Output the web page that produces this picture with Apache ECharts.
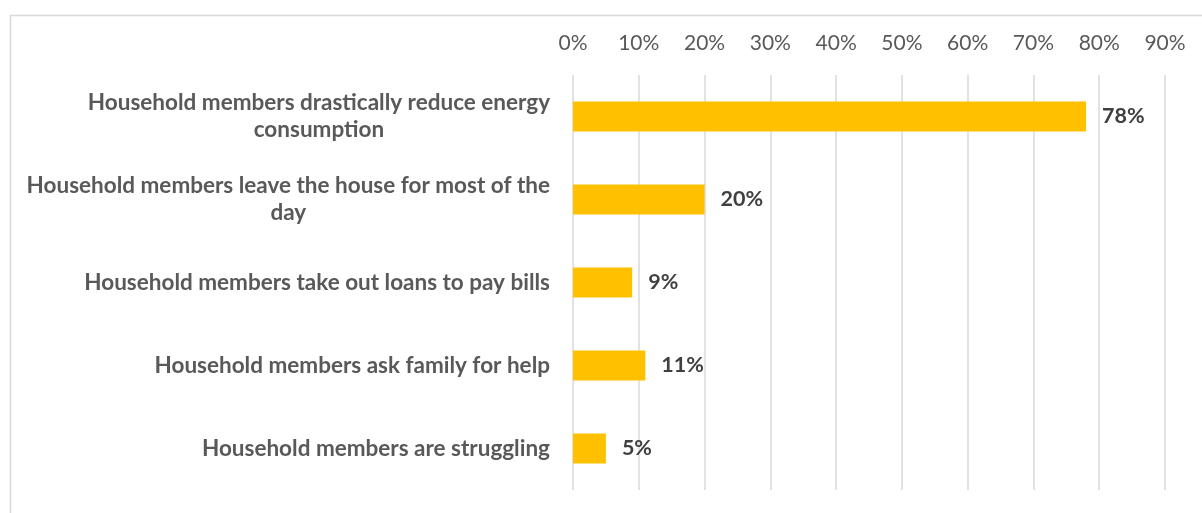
<!DOCTYPE html>
<html>
<head>
<meta charset="utf-8">
<script src="https://cdn.jsdelivr.net/npm/echarts@6/dist/echarts.min.js"></script>
<style>
  html, body { margin: 0; padding: 0; background: #ffffff; }
  #chart { width: 1202px; height: 513px; }
</style>
</head>
<body>
<div id="chart"></div>
<script>
// Responses, listed top to bottom
const categories = [
  'Household members drastically reduce energy consumption',
  'Household members leave the house for most of the day',
  'Household members take out loans to pay bills',
  'Household members ask family for help',
  'Household members are struggling'
];
// Share of respondents (fraction of 1)
const shares = [0.78, 0.20, 0.09, 0.11, 0.05];
// Value axis range
const axisMax = 0.9;
const axisStep = 0.1;

const FONT = 'Lato, "Liberation Sans", sans-serif';

// Break long category names into lines of at most maxChars characters
function wrapWords(text, maxChars) {
  const words = text.split(' ');
  const lines = [];
  let cur = '';
  words.forEach(w => {
    const next = cur ? cur + ' ' + w : w;
    if (next.length > maxChars && cur) { lines.push(cur); cur = w; }
    else { cur = next; }
  });
  if (cur) lines.push(cur);
  return lines;
}

const chart = echarts.init(document.getElementById('chart'), null, { renderer: 'canvas' });

chart.setOption({
  backgroundColor: '#ffffff',
  animation: false,
  graphic: [{
    type: 'rect',
    left: 8, top: 13,
    shape: { width: 1400, height: 700 },
    style: { fill: 'none', stroke: '#D9D9D9', lineWidth: 1.5 },
    silent: true
  }],
  grid: { left: 573, right: 37, top: 75, bottom: 23, containLabel: false },
  xAxis: {
    type: 'value',
    position: 'top',
    min: 0,
    max: axisMax,
    interval: axisStep,
    axisLine: { show: false },
    axisTick: { show: false },
    splitLine: { show: true, lineStyle: { color: '#D9D9D9', width: 1.5 } },
    axisLabel: {
      margin: 21,
      color: '#595959',
      fontFamily: FONT,
      fontSize: 21,
      formatter: v => Math.round(v * 100) + '%'
    }
  },
  yAxis: {
    type: 'category',
    data: categories,
    inverse: true,
    axisLine: { show: false },
    axisTick: { show: false },
    axisLabel: {
      margin: 23,
      color: '#595959',
      fontFamily: FONT,
      fontWeight: 'bold',
      fontSize: 22.5,
      lineHeight: 27,
      formatter: v => wrapWords(v, 50).map(l => '{c|' + l + '}').join('\n'),
      rich: {
        c: {
          align: 'center',
          color: '#595959',
          fontFamily: FONT,
          fontWeight: 'bold',
          fontSize: 22.5,
          lineHeight: 27
        }
      }
    }
  },
  series: [{
    type: 'bar',
    data: shares,
    barWidth: 30,
    itemStyle: { color: '#FFC000' },
    label: {
      show: true,
      position: 'right',
      distance: 16,
      color: '#404040',
      fontFamily: FONT,
      fontWeight: 'bold',
      fontSize: 21.5,
      formatter: p => Math.round(p.value * 100) + '%'
    }
  }]
});
</script>
</body>
</html>
